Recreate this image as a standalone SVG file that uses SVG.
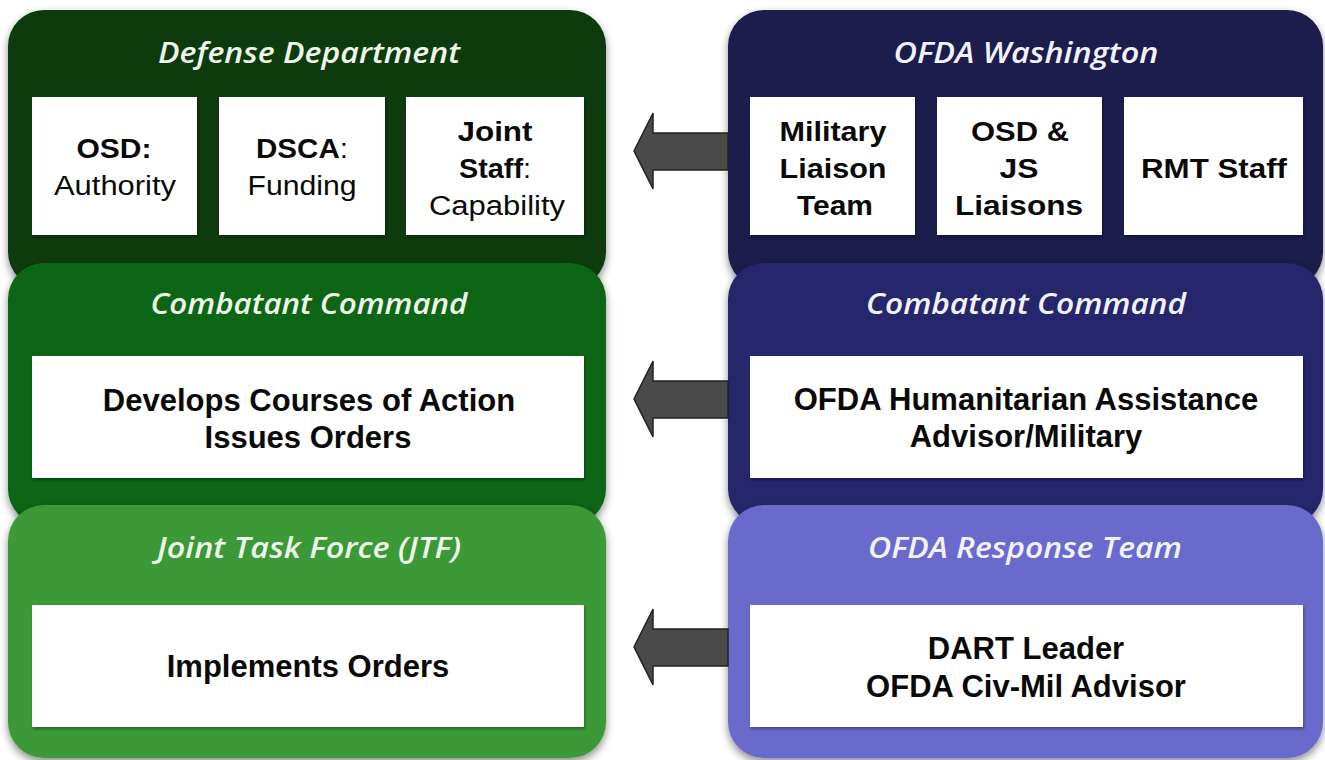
<svg xmlns="http://www.w3.org/2000/svg" width="1325" height="760" viewBox="0 0 1325 760">
<defs>
<filter id="sh" x="-5%" y="-5%" width="110%" height="115%">
<feDropShadow dx="0" dy="4" stdDeviation="4" flood-color="#000" flood-opacity="0.45"/>
</filter>
<filter id="bs" x="-5%" y="-5%" width="110%" height="115%">
<feDropShadow dx="1" dy="2" stdDeviation="1.5" flood-color="#000" flood-opacity="0.35"/>
</filter>
</defs>
<style>
.title{font-family:"Open Sans","Noto Sans",sans-serif;font-style:italic;font-weight:600;font-size:28px;fill:#eef6ea;text-anchor:middle}
.tr{fill:#f2f2fa}
.box{fill:#ffffff;filter:url(#bs)}
.t{font-family:"Liberation Sans",Arial,sans-serif;font-size:27px;fill:#0a0a0a;text-anchor:middle}
.L{font-size:31px;font-weight:bold}
.b{font-weight:bold}
.arrow{fill:#4a4a4a;stroke:#222;stroke-width:1.5}
</style>
<rect width="1325" height="760" fill="#ffffff"/>

<g id="defense-department">
<rect x="8" y="10" width="598" height="278" rx="36" fill="#0b3a0f" filter="url(#sh)"/>
<text class="title" x="309" y="63" textLength="302" lengthAdjust="spacingAndGlyphs">Defense Department</text>
<rect class="box" x="32" y="97" width="165" height="138"/>
<text class="t b" x="114" y="158" textLength="75" lengthAdjust="spacingAndGlyphs">OSD:</text>
<text class="t" x="115" y="195" textLength="122" lengthAdjust="spacingAndGlyphs">Authority</text>
<rect class="box" x="219" y="97" width="166" height="138"/>
<text class="t" x="302" y="158" textLength="92" lengthAdjust="spacingAndGlyphs"><tspan class="b">DSCA</tspan>:</text>
<text class="t" x="302" y="195" textLength="109" lengthAdjust="spacingAndGlyphs">Funding</text>
<rect class="box" x="406" y="97" width="178" height="138"/>
<text class="t b" x="495" y="141" textLength="75" lengthAdjust="spacingAndGlyphs">Joint</text>
<text class="t" x="495" y="178" textLength="72" lengthAdjust="spacingAndGlyphs"><tspan class="b">Staff</tspan>:</text>
<text class="t" x="497" y="215" textLength="136" lengthAdjust="spacingAndGlyphs">Capability</text>
</g>

<g id="combatant-command-left">
<rect x="8" y="263" width="598" height="262" rx="36" fill="#0c6512" filter="url(#sh)"/>
<text class="title" x="309" y="314" textLength="317" lengthAdjust="spacingAndGlyphs">Combatant Command</text>
<rect class="box" x="32" y="356" width="552" height="122"/>
<text class="t L" x="309" y="411">Develops Courses of Action</text>
<text class="t L" x="308" y="448">Issues Orders</text>
</g>

<g id="jtf">
<rect x="8" y="505" width="598" height="253" rx="36" fill="#3b9937" filter="url(#sh)"/>
<text class="title" x="309" y="558" textLength="304" lengthAdjust="spacingAndGlyphs">Joint Task Force (JTF)</text>
<rect class="box" x="32" y="605" width="552" height="122"/>
<text class="t L" x="308" y="677">Implements Orders</text>
</g>

<g id="ofda-washington">
<rect x="728" y="10" width="595" height="278" rx="36" fill="#1b1a4e" filter="url(#sh)"/>
<text class="title tr" x="1026" y="63" textLength="265" lengthAdjust="spacingAndGlyphs">OFDA Washington</text>
<rect class="box" x="750" y="97" width="165" height="138"/>
<text class="t b" x="833" y="141" textLength="107" lengthAdjust="spacingAndGlyphs">Military</text>
<text class="t b" x="833" y="178" textLength="107" lengthAdjust="spacingAndGlyphs">Liaison</text>
<text class="t b" x="835" y="215" textLength="76" lengthAdjust="spacingAndGlyphs">Team</text>
<rect class="box" x="937" y="97" width="165" height="138"/>
<text class="t b" x="1020" y="141" textLength="98" lengthAdjust="spacingAndGlyphs">OSD &amp;</text>
<text class="t b" x="1019" y="178" textLength="39" lengthAdjust="spacingAndGlyphs">JS</text>
<text class="t b" x="1019" y="215" textLength="128" lengthAdjust="spacingAndGlyphs">Liaisons</text>
<rect class="box" x="1124" y="97" width="179" height="138"/>
<text class="t b" x="1214" y="178" textLength="146" lengthAdjust="spacingAndGlyphs">RMT Staff</text>
</g>

<g id="combatant-command-right">
<rect x="728" y="263" width="595" height="262" rx="36" fill="#25256d" filter="url(#sh)"/>
<text class="title tr" x="1026" y="314" textLength="320" lengthAdjust="spacingAndGlyphs">Combatant Command</text>
<rect class="box" x="750" y="356" width="553" height="122"/>
<text class="t L" x="1026" y="410">OFDA Humanitarian Assistance</text>
<text class="t L" x="1026" y="447">Advisor/Military</text>
</g>

<g id="ofda-response-team">
<rect x="728" y="505" width="595" height="253" rx="36" fill="#6b69cc" filter="url(#sh)"/>
<text class="title tr" x="1025" y="558" textLength="314" lengthAdjust="spacingAndGlyphs">OFDA Response Team</text>
<rect class="box" x="750" y="605" width="553" height="122"/>
<text class="t L" x="1026" y="659">DART Leader</text>
<text class="t L" x="1026" y="697">OFDA Civ-Mil Advisor</text>
</g>

<g id="connectors">
<polygon class="arrow" points="728,133 653,133 653,113 634,151 653,189 653,170 728,170"/>
<polygon class="arrow" points="728,381 653,381 653,361 634,399 653,437 653,418 728,418"/>
<polygon class="arrow" points="728,629 653,629 653,609 634,647 653,685 653,666 728,666"/>
</g>
</svg>
